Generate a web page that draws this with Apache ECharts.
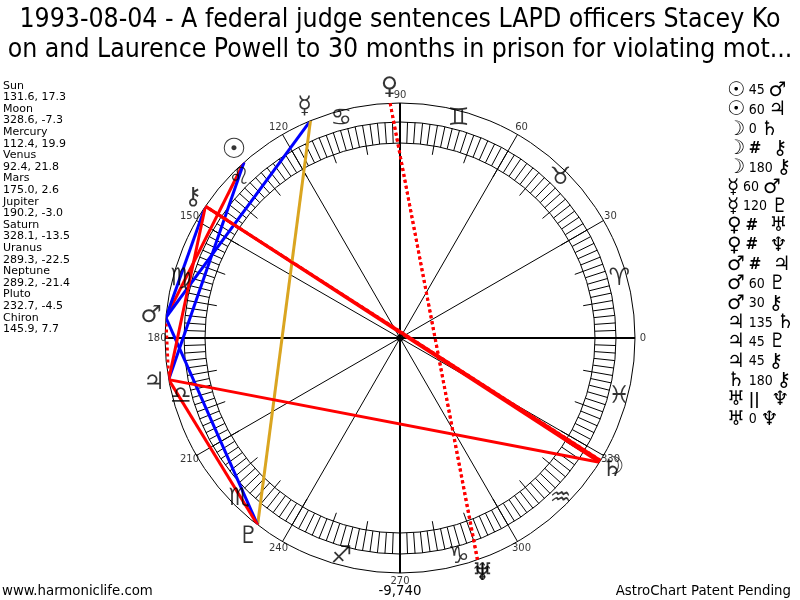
<!DOCTYPE html>
<html lang="en">
<head>
<meta charset="UTF-8">
<title>AstroChart 1993-08-04</title>
<script src="https://cdn.jsdelivr.net/npm/echarts@6/dist/echarts.min.js"></script>
<style>
    html, body { margin: 0; padding: 0; background: #fff; }
    #main { width: 800px; height: 600px; }
</style>
</head>
<body>
<div id="main"></div>
<script type="text/javascript">
    // planets: name, glyph, ecliptic longitude, declination
    var planetNames = ['Sun', 'Moon', 'Mercury', 'Venus', 'Mars', 'Jupiter', 'Saturn', 'Uranus', 'Neptune', 'Pluto', 'Chiron'];
    var planetGlyphs = ['\u2609', '\u263D', '\u263F', '\u2640', '\u2642', '\u2643', '\u2644', '\u2645', '\u2646', '\u2647', '\u26B7'];
    var planetLon = [131.6, 328.6, 112.4, 92.4, 175.0, 190.2, 328.1, 289.3, 289.2, 232.7, 145.9];
    var planetDecl = [17.3, -7.3, 19.9, 21.8, 2.6, -3.0, -13.5, -22.5, -21.4, -4.5, 7.7];

    // zodiac signs, drawn at the middle of each 30 degree sector
    var signGlyphs = ['\u2648', '\u2649', '\u264A', '\u264B', '\u264C', '\u264D', '\u264E', '\u264F', '\u2650', '\u2651', '\u2652', '\u2653'];
    var signMid = [15, 45, 75, 105, 135, 165, 195, 225, 255, 285, 315, 345];

    // degree labels round the wheel
    var degreeTicks = [0, 30, 60, 90, 120, 150, 180, 210, 240, 270, 300, 330];

    // aspects (index into planet arrays) and their kind
    var aspectFrom = [0, 0, 1, 1, 1, 2, 2, 3, 3, 4, 4, 4, 5, 5, 5, 6, 7, 7];
    var aspectTo   = [4, 5, 6, 10, 10, 4, 9, 7, 8, 5, 9, 10, 6, 9, 10, 10, 8, 8];
    var aspectKind = ['45', '60', '0', '#', '180', '60', '120', '#', '#', '#', '60', '30', '135', '45', '45', '180', '||', '0'];

    var titleLines = ['1993-08-04 - A federal judge sentences LAPD officers Stacey Ko',
                      'on and Laurence Powell to 30 months in prison for violating mot...'];
    var footerLeft = 'www.harmoniclife.com';
    var footerMid = '-9,740';
    var footerRight = 'AstroChart Patent Pending';

    var C = [400, 338];
    var R = 235;          // outer circle
    var glyphR = 250;     // planet glyphs
    var labelR = 243;     // degree labels
    var signR = 227;      // sign glyphs

    function aspectStyle(kind) {
        if (kind === '#' || kind === '||') return { color: '#ff0000', width: 3, type: [3, 3] };
        if (kind === '60' || kind === '30') return { color: '#0000ff', width: 3, type: 'solid' };
        if (kind === '120') return { color: '#daa520', width: 3, type: 'solid' };
        return { color: '#ff0000', width: 3, type: 'solid' };
    }

    var myChart = echarts.init(document.getElementById('main'));

    // left panel text
    var leftText = [];
    for (var i = 0; i < planetNames.length; i++) {
        leftText.push(planetNames[i]);
        leftText.push(planetLon[i].toFixed(1) + ', ' + planetDecl[i].toFixed(1));
    }

    // right panel aspect list
    var rightText = [];
    for (var i = 0; i < aspectKind.length; i++) {
        var k = aspectKind[i];
        var mid = (k === '#' || k === '||') ? '{s|' + k + '}   ' : '{n|' + k + '} ';
        rightText.push('{g|' + planetGlyphs[aspectFrom[i]] + '} ' + mid + '{g|' + planetGlyphs[aspectTo[i]] + '}');
    }

    function ringAxis(idx, interval) {
        return {
            polarIndex: idx, type: 'value', min: 0, max: 360, interval: interval,
            startAngle: 0, clockwise: false,
            axisLine: { show: true, lineStyle: { color: '#000', width: 1 } },
            axisTick: { show: false },
            axisLabel: { show: false },
            splitLine: { show: false }
        };
    }

    var angleAxes = [ringAxis(0, 30), ringAxis(1, 10), ringAxis(2, 30), ringAxis(3, 90)];
    angleAxes[0].splitLine = { show: true, lineStyle: { color: '#000', width: 1 } };
    angleAxes[1].axisTick = { show: true, inside: true, length: 30, lineStyle: { color: '#000', width: 1 } };
    angleAxes[1].minorTick = { show: true, splitNumber: 5, length: 21, lineStyle: { color: '#000', width: 1 } };
    angleAxes[3].axisLine = { show: false };
    angleAxes[3].splitLine = { show: true, lineStyle: { color: '#000', width: 2 } };

    var series = [];

    // aspect lines between planet positions on the outer circle
    for (var i = 0; i < aspectKind.length; i++) {
        series.push({
            type: 'line', coordinateSystem: 'polar', polarIndex: 0,
            symbol: 'none', clip: false, silent: true, z: 3,
            lineStyle: aspectStyle(aspectKind[i]),
            data: [[R, planetLon[aspectFrom[i]]], [R, planetLon[aspectTo[i]]]]
        });
    }

    // planet glyphs
    series.push({
        type: 'scatter', coordinateSystem: 'polar', polarIndex: 0, clip: false, silent: true, z: 4,
        symbolSize: 1, itemStyle: { color: 'transparent' },
        label: {
            show: true, position: 'inside', formatter: '{b}', color: '#000',
            fontSize: 24, fontFamily: 'DejaVu Sans'
        },
        data: planetLon.map(function (lon, i) {
            return { value: [glyphR, lon], name: planetGlyphs[i],
                     label: i === 0 ? { fontWeight: 'bold', fontSize: 28 } : {} };
        })
    });

    // sign glyphs
    series.push({
        type: 'scatter', coordinateSystem: 'polar', polarIndex: 0, clip: false, silent: true, z: 4,
        symbolSize: 1, itemStyle: { color: 'transparent' },
        label: { show: true, position: 'inside', formatter: '{b}', color: '#000', fontSize: 24, fontFamily: 'DejaVu Sans' },
        data: signMid.map(function (a, i) { return { value: [signR, a], name: signGlyphs[i] }; })
    });

    // degree labels
    series.push({
        type: 'scatter', coordinateSystem: 'polar', polarIndex: 0, clip: false, silent: true, z: 4,
        symbolSize: 1, itemStyle: { color: 'transparent' },
        label: { show: true, position: 'inside', formatter: '{b}', color: '#000', fontSize: 10, fontFamily: 'DejaVu Sans' },
        data: degreeTicks.map(function (d) { return { value: [labelR, d], name: String(d) }; })
    });

    // centre dot
    series.push({
        type: 'scatter', coordinateSystem: 'polar', polarIndex: 0, silent: true, z: 5,
        symbolSize: 7, itemStyle: { color: '#000' },
        data: [[0, 0]]
    });

    var option = {
        animation: false,
        backgroundColor: '#fff',
        textStyle: { fontFamily: 'DejaVu Sans' },
        title: [
            { text: titleLines.join('\n'), left: 'center', top: 5, padding: 0,
              textStyle: { fontFamily: 'DejaVu Sans Condensed', fontSize: 26.4, fontWeight: 'normal', color: '#000', lineHeight: 30 } },
            { text: leftText.join('\n'), left: 3, top: 80, padding: 0,
              textStyle: { fontFamily: 'DejaVu Sans', fontSize: 11, fontWeight: 'normal', color: '#000', lineHeight: 11.6 } },
            { text: rightText.join('\n'), left: 727, top: 81, padding: 0,
              textStyle: {
                  fontSize: 12, fontWeight: 'normal', lineHeight: 19.35, color: '#000',
                  rich: {
                      g: { fontFamily: 'DejaVu Sans', fontSize: 20, fontWeight: 'normal', lineHeight: 19.35, color: '#000' },
                      n: { fontFamily: 'DejaVu Sans Condensed', fontSize: 14, fontWeight: 'normal', lineHeight: 19.35, color: '#000' },
                      s: { fontFamily: 'DejaVu Sans', fontSize: 15, fontWeight: 'bold', lineHeight: 19.35, color: '#000' }
                  }
              } },
            { text: footerLeft, left: 2, top: 584, padding: 0,
              textStyle: { fontFamily: 'DejaVu Sans Condensed', fontSize: 14.8, fontWeight: 'normal', color: '#000' } },
            { text: footerMid, left: 'center', top: 584, padding: 0,
              textStyle: { fontFamily: 'DejaVu Sans Condensed', fontSize: 14.8, fontWeight: 'normal', color: '#000' } },
            { text: footerRight, right: 9, top: 584, padding: 0,
              textStyle: { fontFamily: 'DejaVu Sans Condensed', fontSize: 14.8, fontWeight: 'normal', color: '#000' } }
        ],
        polar: [
            { center: C, radius: R },
            { center: C, radius: 216 },
            { center: C, radius: 195 },
            { center: C, radius: R }
        ],
        angleAxis: angleAxes,
        radiusAxis: [0, 1, 2, 3].map(function (idx) {
            return { polarIndex: idx, type: 'value', min: 0, max: [R, 216, 195, R][idx], show: false };
        }),
        series: series
    };

    myChart.setOption(option);
</script>
</body>
</html>
